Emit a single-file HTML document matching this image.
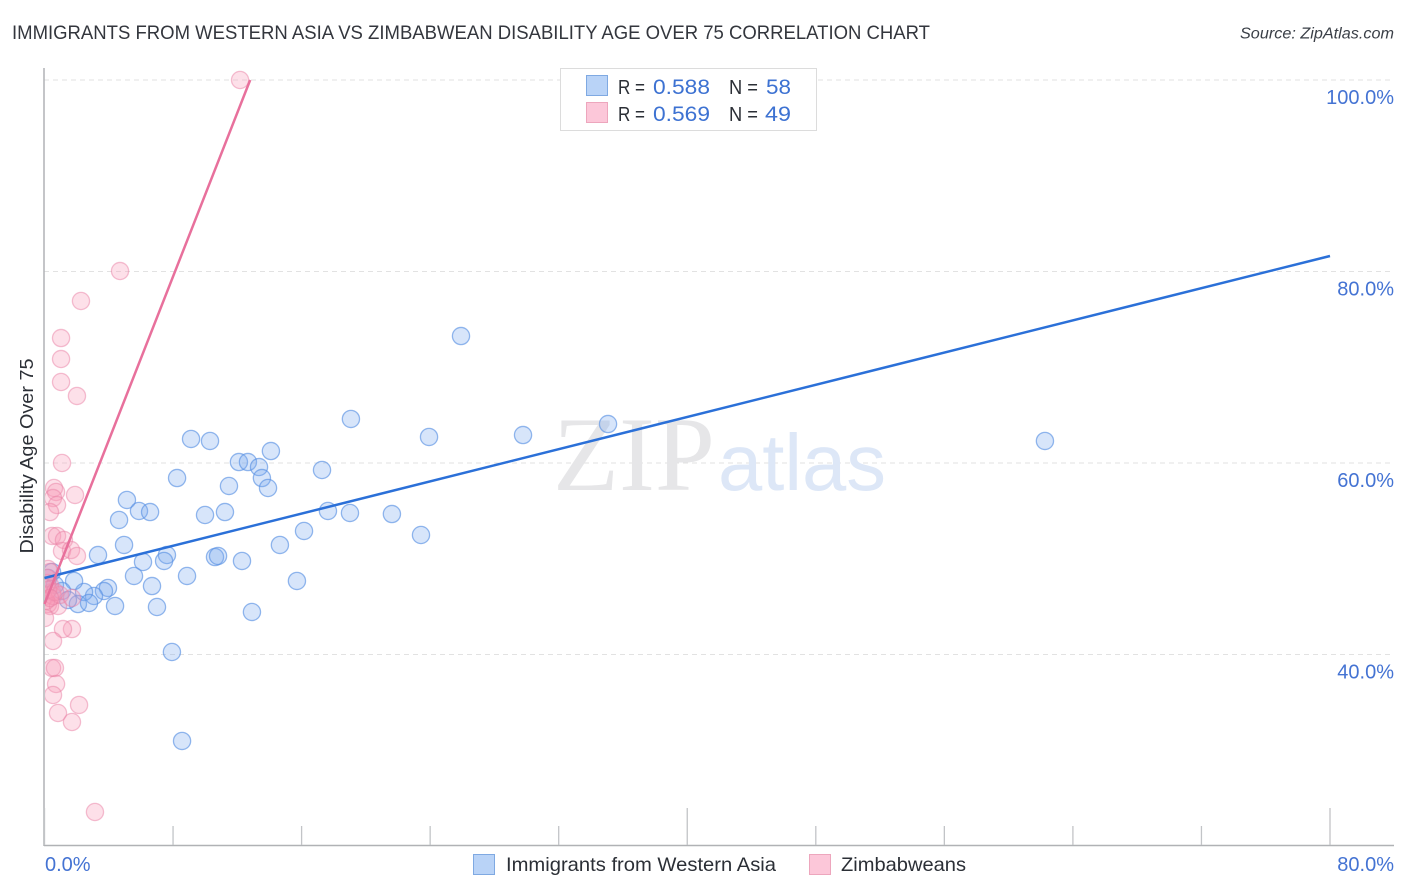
<!DOCTYPE html>
<html lang="en">
<head>
<meta charset="utf-8">
<title>Immigrants from Western Asia vs Zimbabwean Disability Age Over 75 Correlation Chart</title>
<style>
html,body{margin:0;padding:0;background:#fff;width:1406px;height:892px;overflow:hidden}
svg{display:block}
text{font-family:"Liberation Sans",sans-serif}
</style>
</head>
<body>
<svg id="chart" width="1406" height="892" viewBox="0 0 1406 892" xmlns="http://www.w3.org/2000/svg">
  <defs><clipPath id="plot-clip"><rect x="45" y="60" width="1349" height="785"/></clipPath></defs>
  <rect width="1406" height="892" fill="#fff"/>
  <text x="12" y="39" font-size="19.500" fill="#33363d" textLength="918" lengthAdjust="spacingAndGlyphs">IMMIGRANTS FROM WESTERN ASIA VS ZIMBABWEAN DISABILITY AGE OVER 75 CORRELATION CHART</text>
  <text x="1394" y="38.500" font-size="15.500" font-style="italic" fill="#3a3f47" text-anchor="end" textLength="154" lengthAdjust="spacingAndGlyphs">Source: ZipAtlas.com</text>
  <g id="grid"></g>
  <g>
    <text x="553" y="490" font-size="106" fill="#e6e6e8" style="font-family:'Liberation Serif',serif" textLength="162" lengthAdjust="spacingAndGlyphs">ZIP</text>
    <text x="718" y="490" font-size="80" fill="#dde7f7" textLength="168" lengthAdjust="spacingAndGlyphs">atlas</text>
  </g>
  <g id="axes">
    <line x1="44" y1="68" x2="44" y2="846" stroke="#b0b2b5" stroke-width="1.500"/>
    <line x1="44" y1="845.500" x2="1394" y2="845.500" stroke="#b0b2b5" stroke-width="1.500"/>
  </g>
  <g id="x-ticks"></g>
  <g id="y-labels"></g>
  <g id="x-labels"></g>
  <text transform="translate(33,456) rotate(-90)" font-size="18.500" fill="#2b2f36" text-anchor="middle" textLength="195" lengthAdjust="spacingAndGlyphs">Disability Age Over 75</text>
  <g id="points" clip-path="url(#plot-clip)"></g>
  <g id="trends"></g>
  <g>
    <rect x="560.500" y="68.500" width="256" height="62" fill="#fff" stroke="#dcdcdc" stroke-width="1"/>
    <rect x="586.500" y="75.500" width="21" height="20" fill="#b9d3f7" stroke="#7fa9e2"/>
    <rect x="586.500" y="102.500" width="21" height="20" fill="#fcc7d9" stroke="#eda6bd"/>
    <text x="618" y="94" font-size="20" fill="#2b2f36" textLength="27" lengthAdjust="spacingAndGlyphs">R =</text>
    <text x="653" y="94" font-size="21.500" fill="#3d72d2" textLength="57" lengthAdjust="spacingAndGlyphs">0.588</text>
    <text x="729" y="94" font-size="20" fill="#2b2f36" textLength="29" lengthAdjust="spacingAndGlyphs">N =</text>
    <text x="766" y="94" font-size="21.500" fill="#3d72d2" textLength="25" lengthAdjust="spacingAndGlyphs">58</text>
    <text x="618" y="121" font-size="20" fill="#2b2f36" textLength="27" lengthAdjust="spacingAndGlyphs">R =</text>
    <text x="653" y="121" font-size="21.500" fill="#3d72d2" textLength="57" lengthAdjust="spacingAndGlyphs">0.569</text>
    <text x="729" y="121" font-size="20" fill="#2b2f36" textLength="29" lengthAdjust="spacingAndGlyphs">N =</text>
    <text x="765" y="121" font-size="21.500" fill="#3d72d2" textLength="26" lengthAdjust="spacingAndGlyphs">49</text>
  </g>
  <g>
    <rect x="473.500" y="854.500" width="21" height="20" fill="#b9d3f7" stroke="#7fa9e2"/>
    <text x="506" y="871" font-size="19.500" fill="#2b2f36" textLength="270" lengthAdjust="spacingAndGlyphs">Immigrants from Western Asia</text>
    <rect x="809.500" y="854.500" width="21" height="20" fill="#fcc7d9" stroke="#eda6bd"/>
    <text x="841" y="871" font-size="19.500" fill="#2b2f36" textLength="125" lengthAdjust="spacingAndGlyphs">Zimbabweans</text>
  </g>
</svg>
<script>
const xTickValues = [0, 8, 16, 24, 32, 40, 48, 56, 64, 72, 80];
const xTickMajor = [0, 40, 80];
const xLabelValues = ["0.0%", "80.0%"];
const yTickValues = [100, 80, 60, 40];
const yTickLabels = ["100.0%", "80.0%", "60.0%", "40.0%"];

const blueX = [25.92,19.07,35.07,62.26,29.78,23.93,9.12,10.30,14.09,12.10,12.66,13.35,17.27,8.25,13.53,13.91,11.48,5.13,5.88,6.57,4.64,9.99,11.23,17.64,19.01,21.62,23.43,16.15,14.65,4.95,3.33,7.62,6.13,7.44,10.61,10.80,12.29,5.57,8.87,15.71,6.69,3.95,3.70,3.08,2.46,1.84,2.08,2.77,4.39,7.00,12.91,7.93,8.56,0.47,0.65,1.09,0.22,1.46];
const blueY = [73.26,64.60,64.07,62.30,62.92,62.72,62.51,62.30,61.25,60.10,60.10,59.58,59.27,58.43,58.43,57.39,57.60,56.14,54.99,54.88,54.05,54.57,54.88,54.99,54.78,54.67,52.48,52.90,51.44,51.44,50.39,50.39,49.66,49.77,50.18,50.29,49.77,48.20,48.20,47.68,47.15,46.95,46.63,46.11,46.53,47.68,45.27,45.38,45.07,44.96,44.44,40.26,30.97,48.62,47.26,46.63,47.99,45.69];

const pinkX = [12.17,4.70,2.27,1.03,1.03,1.03,2.02,1.09,1.90,0.59,0.72,0.53,0.78,0.34,0.47,0.78,1.21,1.09,1.65,2.02,1.71,1.15,0.53,0.47,0.65,0.72,0.53,2.15,0.84,1.71,3.14,0.22,0.16,0.34,0.47,0.09,0.22,0.34,0.84,0.03,0.53,0.96,1.71,0.09,0.16,0.34,0.22,0.65,0.34];
const pinkY = [100,80.05,76.92,73.05,70.86,68.46,67.00,60.00,56.66,57.39,56.97,56.34,55.61,54.88,52.38,52.38,51.96,50.81,50.91,50.29,42.66,42.66,41.41,38.59,38.59,36.92,35.77,34.73,33.89,32.95,23.55,48.93,47.99,47.26,46.53,46.11,45.27,45.07,45.07,43.81,46.11,46.22,45.90,45.59,47.47,48.62,46.74,46.53,45.90];

const blueTrendX = [0, 80];
const blueTrendY = [47.99, 81.62];
const pinkTrendX = [0, 12.8];
const pinkTrendY = [45.27, 100];

const NS = 'http://www.w3.org/2000/svg';
function xScale(v){ return 44.5 + v * (1330 - 44.5) / 80; }
function yScale(v){ return 80 + (100 - v) * (654.5 - 80) / 60; }
function make(tag, attrs, parent){
  const el = document.createElementNS(NS, tag);
  for (const k in attrs) el.setAttribute(k, attrs[k]);
  parent.appendChild(el);
  return el;
}
const grid = document.getElementById('grid');
yTickValues.forEach(function(v){
  const el = make('line', {x1: 44, x2: 1394, y1: yScale(v), y2: yScale(v), stroke: '#e2e2e2', 'stroke-width': 1, 'stroke-dasharray': '5 4'}, grid);
  
  
});
const xTicks = document.getElementById('x-ticks');
xTickValues.forEach(function(v){
  const top = xTickMajor.indexOf(v) >= 0 ? 808 : 826;
  const el = make('line', {x1: xScale(v), x2: xScale(v), y1: top, y2: 845, stroke: '#c2c4c7', 'stroke-width': 1.300}, xTicks);
  
  
});
const yLabels = document.getElementById('y-labels');
yTickValues.forEach(function(v, i){
  const el = make('text', {x: 1394, y: yScale(v) + 24, 'text-anchor': 'end', 'font-size': 20, fill: '#4473d3'}, yLabels);
  el.textContent = yTickLabels[i];
  
  
});
const xLabels = document.getElementById('x-labels');
[0, 1].forEach(function(i){
  const el = make('text', {x: i === 0 ? 45 : 1394, y: 871, 'text-anchor': i === 0 ? 'start' : 'end', 'font-size': 20, fill: '#4473d3'}, xLabels);
  el.textContent = xLabelValues[i];
  
  
});
const points = document.getElementById('points');
blueX.forEach(function(v, i){
  const el = make('circle', {cx: xScale(v), cy: yScale(blueY[i]), r: 8.600, fill: '#7aaaee', 'fill-opacity': 0.3, stroke: '#5a92e4', 'stroke-opacity': 0.65, 'stroke-width': 1.300}, points);
  
  
});
pinkX.forEach(function(v, i){
  const el = make('circle', {cx: xScale(v), cy: yScale(pinkY[i]), r: 8.600, fill: '#f799b7', 'fill-opacity': 0.3, stroke: '#ea82a6', 'stroke-opacity': 0.5, 'stroke-width': 1.300}, points);
  
  
});
const trends = document.getElementById('trends');
const blueLine = make('line', {x1: xScale(blueTrendX[0]), y1: yScale(blueTrendY[0]), x2: xScale(blueTrendX[1]), y2: yScale(blueTrendY[1]), stroke: '#2b70d8', 'stroke-width': 2.500}, trends);


const pinkLine = make('line', {x1: xScale(pinkTrendX[0]), y1: yScale(pinkTrendY[0]), x2: xScale(pinkTrendX[1]), y2: yScale(pinkTrendY[1]), stroke: '#e8709c', 'stroke-width': 2.500}, trends);


</script>
</body>
</html>
